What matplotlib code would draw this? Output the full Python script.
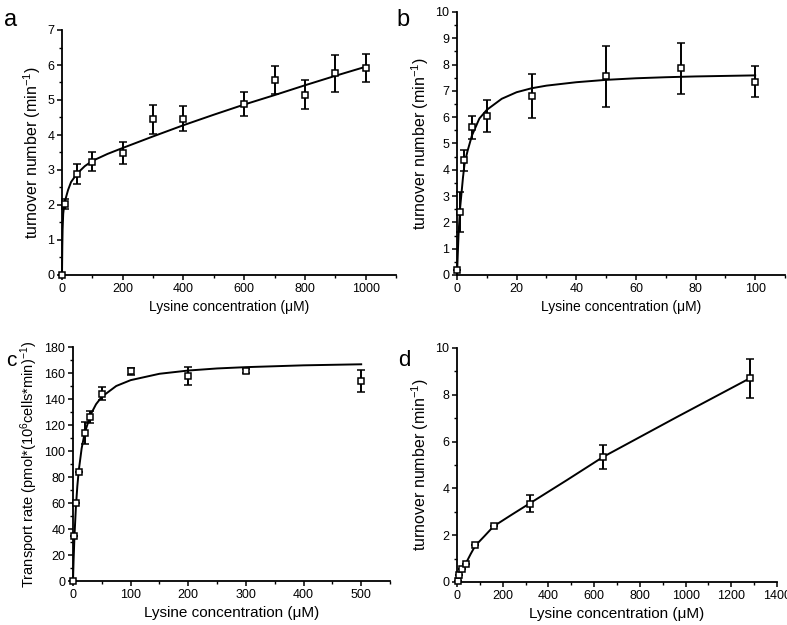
import matplotlib
matplotlib.use("Agg")
import matplotlib.pyplot as plt
from matplotlib.ticker import MultipleLocator

plt.rcParams['font.family'] = ['Liberation Sans', 'DejaVu Sans']
plt.rcParams['mathtext.fontset'] = 'custom'
plt.rcParams['mathtext.rm'] = 'Liberation Sans'
plt.rcParams['mathtext.it'] = 'Liberation Sans:italic'

# --- panel a ---
a_x = [0, 10, 50, 100, 200, 300, 400, 600, 700, 800, 900, 1000]
a_y = [0, 2.03, 2.89, 3.24, 3.48, 4.45, 4.46, 4.89, 5.57, 5.15, 5.76, 5.90]
a_err = [0, 0.15, 0.28, 0.28, 0.31, 0.42, 0.36, 0.35, 0.41, 0.42, 0.53, 0.40]
a_fit_x = [0, 1, 2, 4, 7, 10, 20, 30, 50, 75, 100, 150, 200, 300, 400, 500, 600, 700, 800, 900, 1000]
a_fit_y = [0, 0.8, 1.3, 1.75, 1.98, 2.12, 2.43, 2.66, 2.90, 3.11, 3.26, 3.46, 3.63, 3.96, 4.28, 4.58, 4.87, 5.14, 5.42, 5.69, 5.95]

# --- panel b ---
b_x = [0.1, 1, 2.5, 5, 10, 25, 50, 75, 100]
b_y = [0.2, 2.39, 4.37, 5.61, 6.04, 6.81, 7.56, 7.86, 7.35]
b_err = [0, 0.75, 0.4, 0.44, 0.61, 0.85, 1.16, 0.97, 0.6]
b_fit_x = [0, 0.5, 1, 2, 2.5, 3.5, 5, 7.5, 10, 15, 20, 25, 30, 40, 50, 60, 70, 80, 90, 100]
b_fit_y = [0, 1.5, 2.5, 3.7, 4.2, 4.7, 5.3, 5.95, 6.28, 6.7, 6.95, 7.1, 7.2, 7.33, 7.42, 7.48, 7.52, 7.55, 7.57, 7.59]

# --- panel c ---
c_x = [0, 2.5, 5, 10, 20, 30, 50, 100, 200, 300, 500]
c_y = [0, 34.5, 60.2, 83.6, 113.6, 126, 144, 161.2, 158, 161.3, 153.8]
c_err = [0, 0, 0, 0, 8.5, 4.5, 5, 2.5, 7, 1.5, 8.4]
c_fit_x = [0, 1, 2.5, 5, 7.5, 10, 15, 20, 30, 40, 50, 75, 100, 150, 200, 250, 300, 400, 500]
c_fit_y = [0, 15.5, 34, 56.7, 72.9, 85, 102, 113.3, 127.5, 136, 141.7, 150, 154.5, 159.4, 161.9, 163.5, 164.5, 165.9, 166.7]

# --- panel d ---
d_x = [5, 10, 20, 40, 80, 160, 320, 640, 1280]
d_y = [0.03, 0.29, 0.57, 0.78, 1.58, 2.38, 3.35, 5.35, 8.70]
d_err = [0, 0, 0, 0, 0, 0, 0.36, 0.51, 0.83]
d_fit_x = [0, 5, 10, 20, 40, 60, 80, 120, 160, 240, 320, 480, 640, 960, 1280]
d_fit_y = [0, 0.1, 0.27, 0.52, 0.82, 1.2, 1.55, 1.96, 2.38, 2.88, 3.37, 4.35, 5.35, 7.04, 8.70]

xlab = 'Lysine concentration (μM)'
ylab_turn = 'turnover number (min$^{-1}$)'
ylab_c = 'Transport rate (pmol*(10$^{6}$cells*min)$^{-1}$)'

fig = plt.figure(figsize=(7.87, 6.25), dpi=100)

panels = [
    # rect, x, y, err, fitx, fity, xlim, ylim, xmaj, xmin, ymaj, ymin, ylabel, letter, letter pos, letter size, xlabel size, ylabel size
    ([62/787, 1-275/625, 334/787, 245/625], a_x, a_y, a_err, a_fit_x, a_fit_y,
     (0, 1100), (0, 7), 200, 100, 1, 0.5, ylab_turn, 'a', (4/787, 1-20/625), 17, 10, 11.5),
    ([457/787, 1-275/625, 328/787, 263/625], b_x, b_y, b_err, b_fit_x, b_fit_y,
     (0, 110), (0, 10), 20, 10, 1, 0.5, ylab_turn, 'b', (396/787, 1-20/625), 17, 10, 11.5),
    ([73/787, 1-581/625, 317/787, 234/625], c_x, c_y, c_err, c_fit_x, c_fit_y,
     (0, 550), (0, 180), 100, 50, 20, 10, ylab_c, 'c', (6/787, 1-360/625), 15, 11, 10.5),
    ([457/787, 1-582/625, 320/787, 234/625], d_x, d_y, d_err, d_fit_x, d_fit_y,
     (0, 1400), (0, 10), 200, 100, 2, 1, ylab_turn, 'd', (398/787, 1-360/625), 16, 11, 11.5),
]

for (rect, x, y, err, fx, fy, xl, yl, xmaj, xmin, ymaj, ymin, ylabel, letter, lpos, lfs, xfs, yfs) in panels:
    ax = fig.add_axes(rect)
    ax.plot(fx, fy, color='black', lw=1.4, zorder=2)
    ax.errorbar(x, y, yerr=err, fmt='s', ms=5, mfc='white', mec='black', mew=1.1,
                ecolor='black', elinewidth=1.4, capsize=2.8, capthick=1.4, zorder=3)
    ax.set_xlim(*xl)
    ax.set_ylim(*yl)
    ax.xaxis.set_major_locator(MultipleLocator(xmaj))
    ax.xaxis.set_minor_locator(MultipleLocator(xmin))
    ax.yaxis.set_major_locator(MultipleLocator(ymaj))
    ax.yaxis.set_minor_locator(MultipleLocator(ymin))
    for s in ['top', 'right']:
        ax.spines[s].set_visible(False)
    for s in ['left', 'bottom']:
        ax.spines[s].set_linewidth(1.3)
    ax.tick_params(which='major', direction='out', length=3.5, width=1.1, labelsize=9, pad=2)
    ax.tick_params(which='minor', direction='out', length=2, width=1.0)
    ax.set_xlabel(xlab, fontsize=xfs, labelpad=4)
    ax.set_ylabel(ylabel, fontsize=yfs, labelpad=3)
    for coll in ax.collections + ax.lines:
        coll.set_clip_on(False)
    fig.text(lpos[0], lpos[1], letter, fontsize=lfs, va='center', ha='left')

fig.savefig('out.png', dpi=100)
